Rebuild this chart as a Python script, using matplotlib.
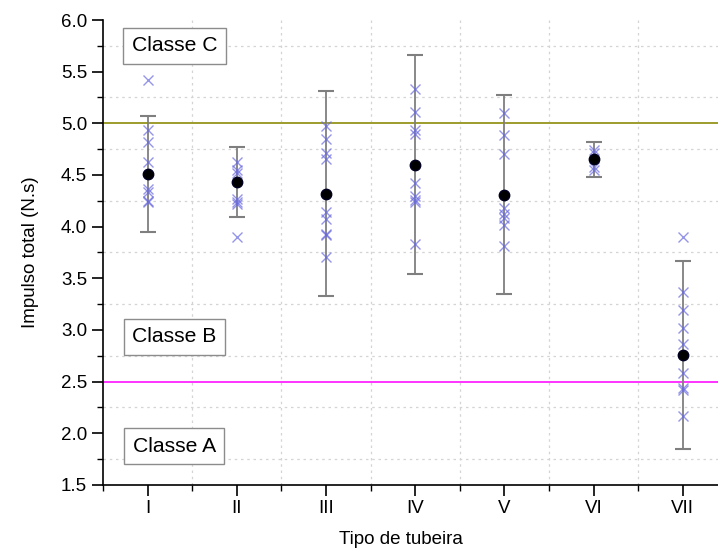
import numpy as np
import matplotlib.pyplot as plt
from matplotlib.ticker import MultipleLocator

plt.rcParams['font.family'] = ['Liberation Sans', 'DejaVu Sans']

tipos = ['I', 'II', 'III', 'IV', 'V', 'VI', 'VII']

# medições individuais por tipo de tubeira
pts_I = [5.42, 4.94, 4.82, 4.63, 4.36, 4.34, 4.25, 4.24]
pts_II = [4.63, 4.55, 4.52, 4.27, 4.24, 4.22, 3.90]
pts_III = [4.97, 4.85, 4.71, 4.65, 4.14, 4.07, 3.93, 3.92, 3.71]
pts_IV = [5.33, 5.11, 4.94, 4.90, 4.42, 4.30, 4.26, 4.24, 3.83]
pts_V = [5.10, 4.89, 4.70, 4.18, 4.12, 4.08, 4.02, 3.81]
pts_VI = [4.74, 4.71, 4.58, 4.55]
pts_VII = [3.90, 3.37, 3.19, 3.02, 2.86, 2.58, 2.44, 2.42, 2.17]
pontos = [pts_I, pts_II, pts_III, pts_IV, pts_V, pts_VI, pts_VII]

medias = [4.51, 4.43, 4.32, 4.60, 4.31, 4.65, 2.76]
erros = [0.56, 0.34, 0.99, 1.06, 0.96, 0.17, 0.91]

limite_C = 5.0
limite_B = 2.5

fig = plt.figure(figsize=(7.18, 5.51), dpi=100)
ax = fig.add_axes([0.1435, 0.1198, 0.8697, 0.8439])

x = np.arange(1, len(tipos) + 1)

ax.axhline(limite_C, color='#9c9c2c', lw=1.4, zorder=2)
ax.axhline(limite_B, color='#ff33ff', lw=1.4, zorder=2)

ax.errorbar(x, medias, yerr=erros, fmt='none', ecolor='#7f7f7f', elinewidth=1.3,
            capsize=6, capthick=1.5, zorder=3)

for xi, p in zip(x, pontos):
    ax.plot([xi] * len(p), p, linestyle='none', marker='x', ms=6.5, mew=1.0,
            color='#6a6ae0', alpha=0.7, zorder=4)

ax.plot(x, medias, linestyle='none', marker='o', ms=7.5, color='black',
        markeredgecolor='#000020', zorder=5)

caixa = dict(boxstyle='square,pad=0.4', facecolor='white', edgecolor='#8c8c8c', lw=1)
for txt, yv in [('Classe C', 5.75), ('Classe B', 2.935), ('Classe A', 1.875)]:
    ax.text(1.3, yv, txt, ha='center', va='center', fontsize=15.2, bbox=caixa, zorder=6)

ax.set_xlim(0.5, 7.5)
ax.set_ylim(1.5, 6.0)
ax.set_xticks(x)
ax.set_xticklabels(tipos)
ax.xaxis.set_minor_locator(MultipleLocator(0.5))
ax.yaxis.set_major_locator(MultipleLocator(0.5))
ax.yaxis.set_minor_locator(MultipleLocator(0.25))
ax.yaxis.set_major_formatter(plt.FormatStrFormatter('%.1f'))

ax.grid(False)
for xv in np.arange(1.5, 7.5, 1.0):
    ax.axvline(xv, color='#d4d4d4', lw=0.9, ls=(0, (2, 3)), zorder=1)
for yv in np.arange(1.75, 6.0, 0.5):
    ax.axhline(yv, color='#d4d4d4', lw=0.9, ls=(0, (2, 3)), zorder=1)

ax.spines['top'].set_visible(False)
ax.spines['right'].set_visible(False)
for s in ['left', 'bottom']:
    ax.spines[s].set_linewidth(1.2)
ax.tick_params(which='major', direction='out', length=8, width=1.2, labelsize=13.5)
ax.tick_params(which='minor', direction='out', length=4.5, width=1.0)
ax.tick_params(axis='x', which='major', pad=3)

ax.set_ylabel('Impulso total (N.s)', fontsize=13.5, labelpad=16)
ax.set_xlabel('Tipo de tubeira', fontsize=13.5)
ax.xaxis.set_label_coords(0.477, -0.098)

fig.savefig('out.png', dpi=100)
